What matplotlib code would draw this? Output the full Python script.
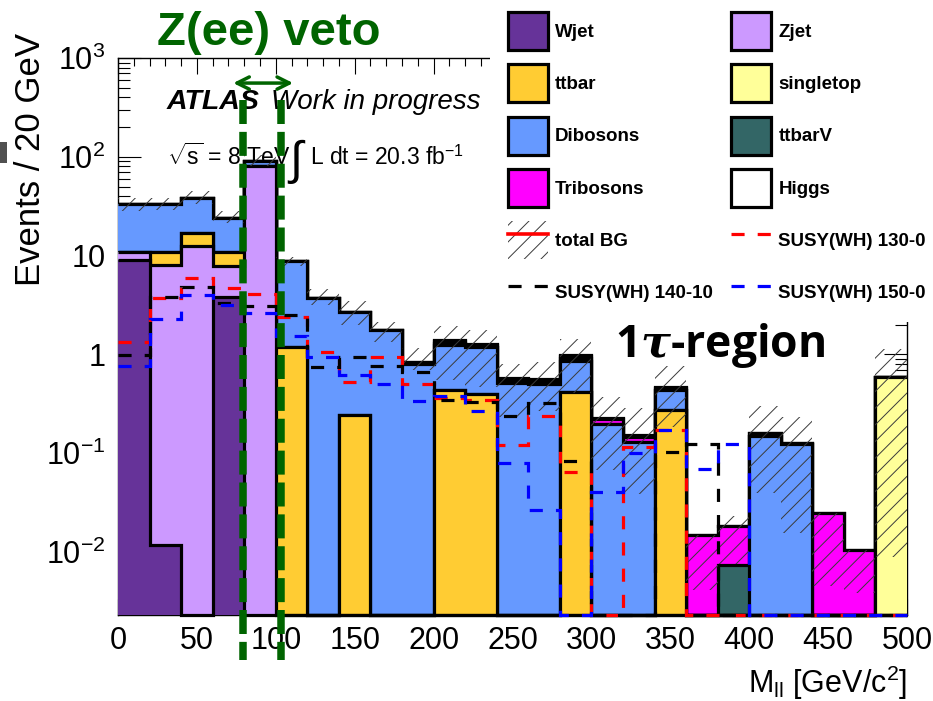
import numpy as np
import matplotlib
matplotlib.use("Agg")
import matplotlib.pyplot as plt
import matplotlib.transforms as mtransforms
from matplotlib.patches import Patch, Rectangle
from matplotlib.lines import Line2D
from matplotlib.ticker import FixedLocator, FixedFormatter, NullFormatter

plt.rcParams['font.family'] = ['Liberation Sans', 'DejaVu Sans']
plt.rcParams['mathtext.fontset'] = 'custom'
plt.rcParams['mathtext.rm'] = 'Liberation Sans'
plt.rcParams['mathtext.it'] = 'DejaVu Serif:italic:bold'
plt.rcParams['mathtext.bf'] = 'Liberation Sans:bold'
plt.rcParams['hatch.linewidth'] = 0.7

# ---------------- data ----------------
mll_edges = np.arange(0, 520, 20)          # 25 bins of 20 GeV, 0..500

wjet      = [9.0, 0.0118, 0, 3.79, 0, 0, 0, 0, 0, 0, 0, 0, 0, 0, 0, 0, 0, 0, 0, 0, 0, 0, 0, 0, 0]
zjet      = [1.8, 8.1, 12.6, 4.0, 81.0, 0, 0, 0, 0, 0, 0, 0, 0, 0, 0, 0, 0, 0, 0, 0, 0, 0, 0, 0, 0]
ttbar     = [0, 2.9, 4.5, 3.2, 0, 1.18, 0, 0.242, 0, 0, 0.433, 0.394, 0, 0, 0.416, 0, 0, 0.272, 0, 0, 0, 0, 0, 0, 0]
singletop = [0, 0, 0, 0, 0, 0, 0, 0, 0, 0, 0, 0, 0, 0, 0, 0, 0, 0, 0, 0, 0, 0, 0, 0, 0.586]
dibosons  = [22.7, 22.5, 21.4, 13.2, 10.0, 7.7, 3.77, 2.42, 1.75, 0.81, 0.80, 0.79, 0.51, 0.50, 0.45, 0.20, 0.13, 0.16, 0, 0, 0.148, 0.125, 0, 0, 0]
ttbarv    = [0, 0, 0, 0, 0, 0, 0, 0, 0, 0, 0.06, 0, 0, 0, 0.06, 0, 0, 0.005, 0, 0.0074, 0, 0, 0, 0, 0]
tribosons = [0, 0, 0, 0, 0, 0, 0, 0, 0, 0.03, 0.06, 0.06, 0.04, 0.04, 0.04, 0.02, 0.015, 0.02, 0.0148, 0.0109, 0.012, 0.001, 0.0248, 0.0105, 0]
higgs     = [0, 0, 0, 0, 0, 0, 0, 0, 0, 0, 0.06, 0.03, 0.03, 0.03, 0.03, 0.01, 0.008, 0.015, 0, 0, 0, 0, 0, 0, 0]

bg_band_hi = [38.5, 38.0, 45.0, 28.5, 105.0, 9.6, 4.6, 3.5, 2.12, 1.15, 1.95, 1.75, 0.81, 0.84, 1.45, 0.37, 0.285, 0.77, 0.0148, 0.0231, 0.30, 0.233, 0.0248, 0.0105, 1.14]
bg_band_lo = [28.5, 29.0, 33.0, 21.5, 80.0, 7.9, 3.2, 2.0, 1.33, 0.69, 0.55, 0.47, 0.233, 0.27, 0.41, 0.067, 0.039, 0.184, 0.0041, 0.0075, 0.04, 0.0155, 0.0045, 0.0039, 0.0089]

susy_130_0  = [1.33, 3.7, 5.9, 4.67, 4.1, 2.38, 1.05, 0.53, 0.94, 0.506, 0.36, 0.35, 0.122, 0.236, 0.065, 0, 0.116, 0.171, 0, 0, 0, 0, 0, 0, 0]
susy_140_10 = [0.977, 3.8, 4.86, 3.3, 3.07, 2.48, 0.745, 0.94, 0.763, 0.66, 0.343, 0.33, 0.236, 0.32, 0.0836, 0, 0, 0.103, 0.123, 0, 0, 0, 0, 0, 0]
susy_150_0  = [0.757, 2.26, 4.04, 3.13, 2.64, 1.55, 0.94, 0.62, 0.506, 0.337, 0.376, 0.27, 0.08, 0.0266, 0, 0.041, 0.1, 0.171, 0.07, 0.123, 0, 0, 0, 0, 0]

zveto_edges = [79, 103]

bg_names  = ['Wjet', 'Zjet', 'ttbar', 'singletop', 'Dibosons', 'ttbarV', 'Tribosons', 'Higgs']
bg_values = [wjet, zjet, ttbar, singletop, dibosons, ttbarv, tribosons, higgs]
bg_colors = ['#663399', '#cc99ff', '#ffcc33', '#ffff99', '#6699ff', '#336666', '#ff00ff', '#ffffff']

x_ticks = [0, 50, 100, 150, 200, 250, 300, 350, 400, 450, 500]
y_ticks = [1e-2, 1e-1, 1, 10, 1e2, 1e3]
y_ticklabels = [r'$10^{-2}$', r'$10^{-1}$', '1', '10', r'$10^{2}$', r'$10^{3}$']

# ---------------- figure ----------------
W, H = 933, 701
fig = plt.figure(figsize=(W / 100, H / 100), dpi=100)
ax = fig.add_axes([118 / W, 1 - 615 / H, 789 / W, 557 / H])
ymin, ymax = 0.00231, 1000
ax.set_xlim(0, 500)
ax.set_yscale('log')
ax.set_ylim(ymin, ymax)

green = '#006400'
edges = mll_edges

cum = np.cumsum(np.array(bg_values, dtype=float), axis=0)
for k in reversed(range(len(bg_values))):
    top = np.where(cum[k] > 0, cum[k], ymin)
    ax.stairs(top, edges, baseline=ymin, fill=True, facecolor=bg_colors[k],
              edgecolor='none', linewidth=0, zorder=3)
    ax.stairs(top, edges, baseline=None, fill=False, edgecolor='black',
              linewidth=2.3, zorder=3, clip_on=False)

ax.stairs(np.array(bg_band_hi), edges, baseline=np.array(bg_band_lo), fill=True,
          facecolor='none', edgecolor='#3a3a3a', hatch='//', linewidth=0, zorder=4)

susy_sets = [(susy_130_0, 'red'), (susy_140_10, 'black'), (susy_150_0, 'blue')]
for vals, col in susy_sets:
    v = np.array(vals, dtype=float)
    v = np.where(v > 0, v, ymin)
    ax.stairs(v, edges, baseline=None, fill=False, edgecolor=col, linewidth=2.3,
              linestyle=(0, (4.1, 4.1)), zorder=5, clip_on=False)

# axes ticks (ROOT style: inward, all sides)
ax.xaxis.set_major_locator(FixedLocator(x_ticks))
ax.xaxis.set_minor_locator(FixedLocator(np.arange(0, 510, 10)))
ax.yaxis.set_major_locator(FixedLocator(y_ticks))
ax.yaxis.set_major_formatter(FixedFormatter(y_ticklabels))
minors = [m * 10.0 ** e for e in range(-3, 3) for m in range(2, 10)]
ax.yaxis.set_minor_locator(FixedLocator(minors))
ax.yaxis.set_minor_formatter(NullFormatter())
ax.tick_params(axis='both', which='both', direction='in', top=True, right=True, width=0.8)
ax.tick_params(axis='y', which='major', length=16.6, labelsize=22, pad=9)
ax.tick_params(axis='y', which='minor', length=8.3)
ax.tick_params(axis='x', which='major', length=11.5, labelsize=22, pad=8)
ax.tick_params(axis='x', which='minor', length=5.8)
for s in ax.spines.values():
    s.set_linewidth(1.0)

# ATLAS labels (drawn beneath histograms)
ax.text(0.0621, 0.9084, 'ATLAS', transform=ax.transAxes, fontsize=20.5, style='italic',
        fontweight='bold', va='baseline', ha='left', zorder=2)
ax.text(0.1935, 0.9084, 'Work in progress', transform=ax.transAxes, fontsize=20,
        style='italic', va='baseline', ha='left', zorder=2)
ax.text(0.0621, 0.808, r'$\sqrt{\mathrm{s}}$ = 8 TeV', transform=ax.transAxes, fontsize=16.5,
        va='baseline', ha='left', zorder=2)
ax.text(0.214, 0.792, r'$\int$', transform=ax.transAxes, fontsize=34,
        va='baseline', ha='left', zorder=2)
ax.text(0.2433, 0.808, r'L dt = 20.3 fb$^{-1}$', transform=ax.transAxes, fontsize=16.5,
        va='baseline', ha='left', zorder=2)

# Z veto markers
trans = mtransforms.blended_transform_factory(ax.transData, ax.transAxes)
for xv in zveto_edges:
    ax.plot([xv, xv], [0.9246, -0.0808], transform=trans, color=green, lw=5.4,
            ls=(0, (3.2, 1.05)), clip_on=False, zorder=10)
ax.annotate('', xy=(111, 0.955), xytext=(73, 0.955), xycoords=trans, textcoords=trans,
            arrowprops=dict(arrowstyle='<->', color=green, lw=2.5, mutation_scale=22,
                            shrinkA=0, shrinkB=0),
            annotation_clip=False, zorder=10)

fig.text(269 / W, 1 - 33 / H, 'Z(ee) veto', color=green, fontsize=34, fontweight='bold',
         ha='center', va='center')

# axis titles
fig.text(31 / W, 1 - 160 / H, 'Events / 20 GeV', rotation=90, fontsize=25,
         ha='center', va='center')
fig.text(907 / W, 1 - 683 / H, r'M$_{\mathrm{ll}}$ [GeV/c$^{\mathrm{2}}$]', fontsize=22,
         ha='right', va='center')

# legend background (covers frame like the ROOT legend box)
fig.patches.append(Rectangle((490 / W, 1 - 322 / H), 443 / W, 322 / H,
                             transform=fig.transFigure, facecolor='white',
                             edgecolor='none', zorder=1))
fig.patches.append(Rectangle((0, 1 - 163 / H), 7 / W, 21 / H, transform=fig.transFigure,
                             facecolor='#505050', edgecolor='none', zorder=1))

def box(c):
    return Patch(facecolor=c, edgecolor='black', linewidth=2.3)

dash = (0, (4.1, 4.1))
totbg = (Patch(facecolor='none', edgecolor='#3a3a3a', hatch='//', linewidth=0),
         Line2D([], [], color='red', lw=2.6))
col1_h = [box(bg_colors[0]), box(bg_colors[2]), box(bg_colors[4]), box(bg_colors[6]), totbg,
          Line2D([], [], color='black', lw=2.3, ls=dash)]
col1_l = ['Wjet', 'ttbar', 'Dibosons', 'Tribosons', 'total BG', 'SUSY(WH) 140-10']
col2_h = [box(bg_colors[1]), box(bg_colors[3]), box(bg_colors[5]), box(bg_colors[7]),
          Line2D([], [], color='red', lw=2.3, ls=dash),
          Line2D([], [], color='blue', lw=2.3, ls=dash)]
col2_l = ['Zjet', 'singletop', 'ttbarV', 'Higgs', 'SUSY(WH) 130-0', 'SUSY(WH) 150-0']

leg_kw = dict(loc='upper left', bbox_transform=fig.transFigure, frameon=False,
              prop={'size': 13.5, 'weight': 'bold'}, handlelength=2.13, handleheight=2.75,
              labelspacing=0.757, handletextpad=0.4, borderpad=0, borderaxespad=0)
fig.legend(col1_h, col1_l, bbox_to_anchor=(507.7 / W, 1 - 12 / H), **leg_kw)
fig.legend(col2_h, col2_l, bbox_to_anchor=(731 / W, 1 - 12 / H), **leg_kw)

fig.text(615 / W, 1 - 346 / H, r'1$\tau$-region', fontsize=32, fontweight='bold',
         family=['Open Sans', 'Liberation Sans'], ha='left', va='center', zorder=6)

fig.savefig('out.png', dpi=100)
